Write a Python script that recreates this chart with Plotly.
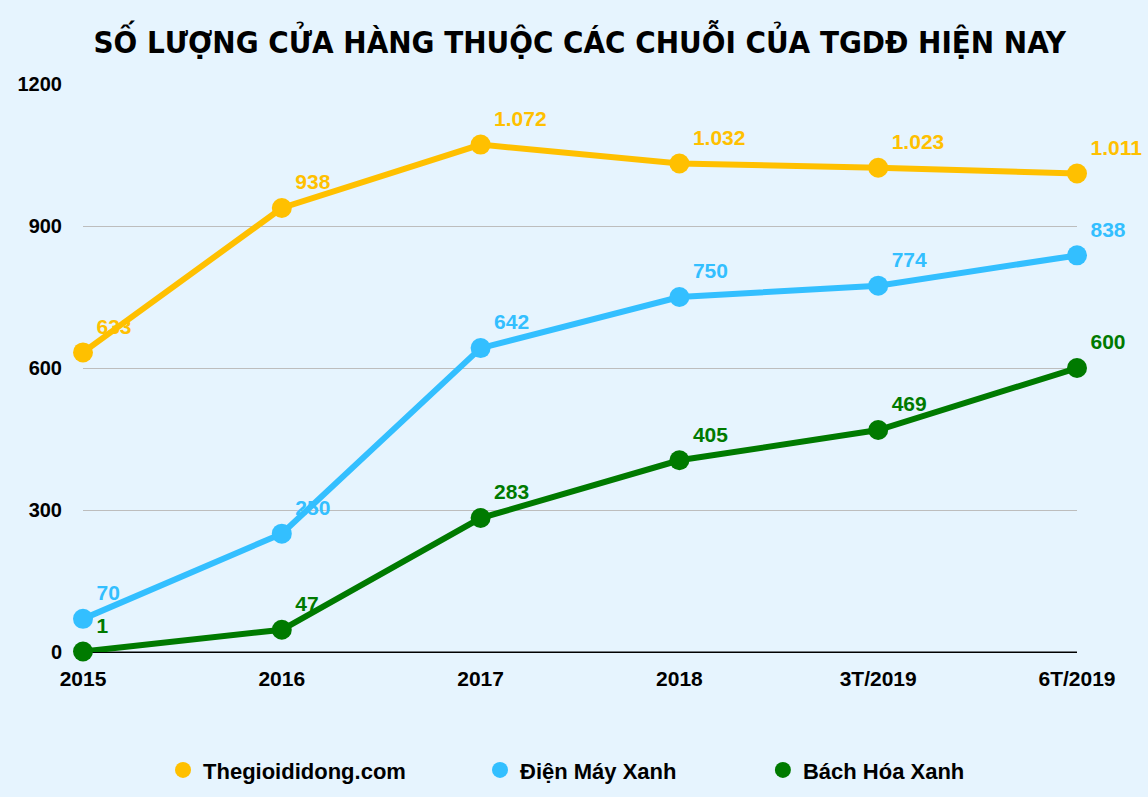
import plotly.graph_objects as go

categories = ["2015", "2016", "2017", "2018", "3T/2019", "6T/2019"]
tgdd = [633, 938, 1072, 1032, 1023, 1011]
dmx = [70, 250, 642, 750, 774, 838]
bhx = [1, 47, 283, 405, 469, 600]
series_names = ["Thegioididong.com", "Điện Máy Xanh", "Bách Hóa Xanh"]
colors = ["#FFC000", "#33BFFF", "#007A00"]
y_ticks = [0, 300, 600, 900, 1200]

BG = "#E6F4FE"
legend_ids = ["legend", "legend2", "legend3"]
legend_x = [0.0805, 0.3994, 0.684]


def fmt(v):
    return f"{v:,}".replace(",", ".")


fig = go.Figure()
for name, vals, col in zip(series_names, [tgdd, dmx, bhx], colors):
    fig.add_trace(go.Scatter(
        x=categories, y=vals, name=name, legendgroup=name, showlegend=False,
        mode="lines+markers+text",
        line=dict(color=col, width=6),
        marker=dict(color=col, size=20),
        text=[fmt(v) for v in vals],
        textposition="top right",
        textfont=dict(color=col, size=21, family="Liberation Sans, Arial, sans-serif", weight="bold"),
        cliponaxis=False,
    ))
for name, col, lid in zip(series_names, colors, legend_ids):
    fig.add_trace(go.Scatter(
        x=[None], y=[None], name=name, legendgroup=name, showlegend=True,
        legend=lid, mode="markers", marker=dict(color=col, size=17),
    ))

leg_common = dict(
    orientation="h", xanchor="left", y=-0.208, yanchor="middle",
    font=dict(size=22, weight="bold"), itemwidth=30, bgcolor="rgba(0,0,0,0)",
)

fig.update_layout(
    width=1148, height=797,
    paper_bgcolor=BG, plot_bgcolor=BG,
    margin=dict(l=83, r=71, t=84, b=145, autoexpand=False),
    title=dict(
        text="<b>SỐ LƯỢNG CỬA HÀNG THUỘC CÁC CHUỖI CỦA TGDĐ HIỆN NAY</b>",
        x=0.505, xanchor="center", y=0.947, yanchor="middle",
        font=dict(size=31, color="#000", family="DejaVu Sans Condensed, Liberation Sans Narrow, Liberation Sans, sans-serif"),
    ),
    font=dict(family="Liberation Sans, Arial, sans-serif", color="#000"),
    xaxis=dict(
        type="category", range=[0, 5], showgrid=False, ticks="",
        tickfont=dict(size=21, weight="bold"), ticklabelstandoff=12,
        showline=False, zeroline=False,
    ),
    yaxis=dict(
        range=[0, 1200], tickvals=y_ticks, showgrid=True,
        gridcolor="#BDBDBD", gridwidth=1, zeroline=True, zerolinecolor="#000", zerolinewidth=1,
        tickfont=dict(size=20, weight="bold"), ticks="", ticklabelstandoff=20,
    ),
    legend=dict(x=legend_x[0], **leg_common),
    legend2=dict(x=legend_x[1], **leg_common),
    legend3=dict(x=legend_x[2], **leg_common),
    showlegend=True,
)
fig.add_shape(type="line", xref="paper", yref="y", x0=0, x1=1, y0=0, y1=0,
              line=dict(color="#000", width=1), layer="below")

fig.write_html(
    "out.html",
    config={"displayModeBar": False},
    post_script=f"document.body.style.margin='0';document.body.style.background='{BG}';",
)
